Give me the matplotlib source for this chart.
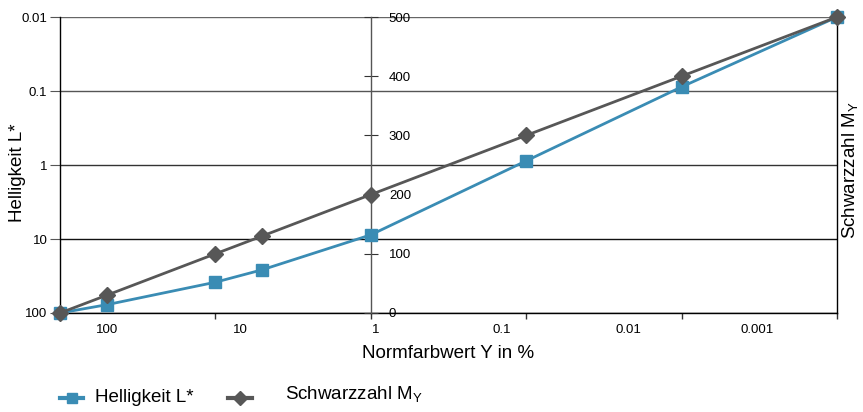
import matplotlib
matplotlib.use("Agg")
import matplotlib.pyplot as plt
from matplotlib.lines import Line2D
from matplotlib.ticker import NullLocator

FONT = ["Liberation Sans", "DejaVu Sans"]
plt.rcParams["font.family"] = FONT
plt.rcParams["mathtext.fontset"] = "custom"
plt.rcParams["mathtext.rm"] = "Liberation Sans"
plt.rcParams["mathtext.it"] = "Liberation Sans:italic"

# Normfarbwert Y in % for each sample
y_percent = [100, 50, 10, 5, 1, 0.1, 0.01, 0.001]
# Schwarzzahl M_Y (0..500)
schwarzzahl = [0, 30, 100, 130, 200, 300, 400, 500]
# Helligkeit L*, drawn on the same 0..500 scale
helligkeit = [0, 14, 52, 73, 132, 257, 382, 500]

left_tick_values = [0, 125, 250, 375, 500]
left_tick_labels = ["100", "10", "1", "0.1", "0.01"]
x_decades = [100, 10, 1, 0.1, 0.01, 0.001]
x_tick_labels = ["100", "10", "1", "0.1", "0.01", "0.001"]
mid_ticks = [0, 100, 200, 300, 400, 500]

BLUE = "#3a8cb4"
DARK = "#575757"
TICK_FS = 9.5
TITLE_FS = 13.5

fig = plt.figure(figsize=(8.63, 4.12), dpi=100)
ax = fig.add_axes([0.0695, 0.2403, 0.9004, 0.7184])

ax.set_xscale("log")
ax.set_xlim(100, 0.001)
ax.set_ylim(0, 500)

# left axis: Helligkeit scale with horizontal grid
ax.set_yticks(left_tick_values)
ax.set_yticklabels(left_tick_labels, fontsize=TICK_FS)
ax.tick_params(axis="y", length=7, color="#555555", pad=2)
ax.yaxis.grid(True, linewidth=1.0)
grid_colors = ["#000000", "#111111", "#333333", "#555555", "#666666"]
for gl, c in zip(ax.get_ygridlines(), grid_colors):
    gl.set_color(c)

# bottom axis: decade marks, labels placed separately
ax.set_xticks(x_decades)
ax.set_xticklabels([])
ax.xaxis.set_minor_locator(NullLocator())
ax.tick_params(axis="x", length=4, color="#333333", width=1)
label_pos = [0.0605, 0.2317, 0.4067, 0.569, 0.731, 0.897]
for xf, lab in zip(label_pos, x_tick_labels):
    ax.text(xf, -0.058, lab, transform=ax.transAxes, ha="center", va="center",
            fontsize=TICK_FS)

for side in ["left", "bottom", "right"]:
    ax.spines[side].set_color("black")
    ax.spines[side].set_linewidth(1.0)
ax.spines["top"].set_visible(False)

# middle axis: Schwarzzahl scale at Y = 1 %
ax2 = ax.twinx()
ax2.set_ylim(0, 500)
for side in ["left", "top", "bottom"]:
    ax2.spines[side].set_visible(False)
ax2.spines["right"].set_position(("data", 1))
ax2.spines["right"].set_color("#555555")
ax2.spines["right"].set_linewidth(1.0)
ax2.set_yticks(mid_ticks)
ax2.set_yticklabels([str(t) for t in mid_ticks], fontsize=TICK_FS)
ax2.tick_params(axis="y", direction="inout", length=10, color="#333333",
                pad=8)

ax2.plot(y_percent, helligkeit, color=BLUE, linewidth=2.0, marker="s",
         markersize=9, zorder=3, clip_on=False)
ax2.plot(y_percent, schwarzzahl, color=DARK, linewidth=2.0, marker="D",
         markersize=8.5, zorder=4, clip_on=False)

# axis titles
fig.text(0.0197, 0.58, "Helligkeit L*", rotation=90, ha="center",
         va="center", fontsize=TITLE_FS)
fig.text(0.985, 0.587, r"Schwarzzahl M$_\mathrm{Y}$", rotation=90,
         ha="center", va="center", fontsize=TITLE_FS)
fig.text(0.519, 0.141, "Normfarbwert Y in %", ha="center", va="center",
         fontsize=TITLE_FS)

# legend
yl = 1 - 398 / 412
fig.add_artist(Line2D([0.0695, 0.0962], [yl, yl], color=BLUE, linewidth=3,
                      transform=fig.transFigure))
fig.add_artist(Line2D([0.0829], [yl], color=BLUE, marker="s", markersize=7,
                      linestyle="none", transform=fig.transFigure))
fig.text(0.110, yl, "Helligkeit L*", ha="left", va="center",
         fontsize=TITLE_FS)
fig.add_artist(Line2D([0.264, 0.292], [yl, yl], color=DARK, linewidth=3,
                      transform=fig.transFigure))
fig.add_artist(Line2D([0.278], [yl], color=DARK, marker="D", markersize=7,
                      linestyle="none", transform=fig.transFigure))
fig.text(0.330, 1 - 394 / 412, r"Schwarzzahl M$_\mathrm{Y}$", ha="left",
         va="center", fontsize=TITLE_FS)

fig.savefig("out.png", dpi=100)
